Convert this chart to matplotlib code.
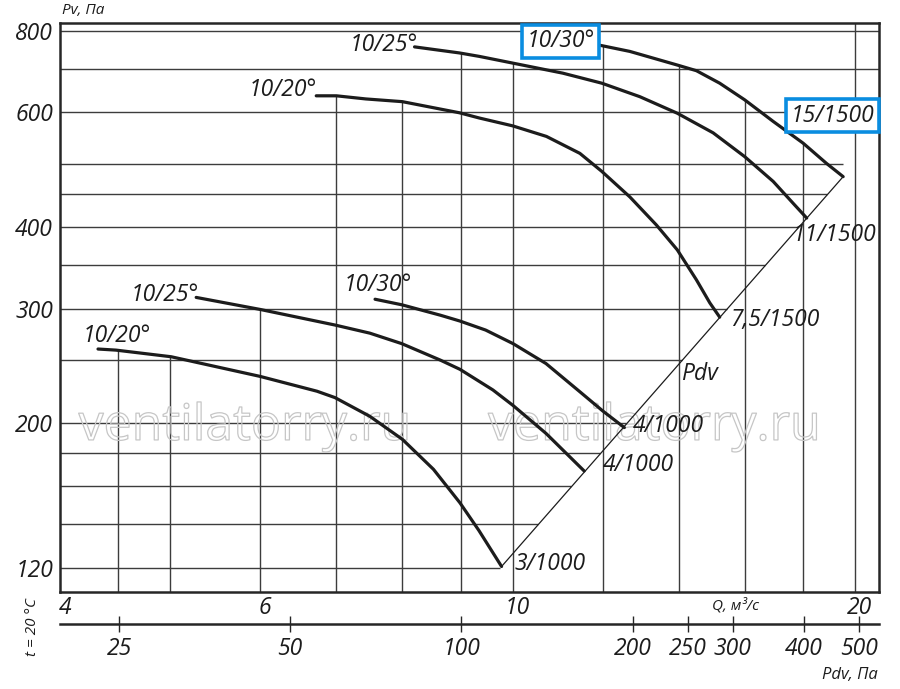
import numpy as np
import matplotlib
matplotlib.use('Agg')
import matplotlib.pyplot as plt
import matplotlib.patheffects as pe
import matplotlib.transforms as mtransforms
from matplotlib.ticker import NullLocator, NullFormatter

plt.rcParams['font.family'] = ['Open Sans', 'DejaVu Sans']
plt.rcParams['font.style'] = 'italic'

# fan curves: Q, m3/s -> Pv, Pa
q_1000_20 = [4.32, 4.48, 5.01, 6.00, 6.73, 6.98, 7.49, 8.00, 8.52, 8.99, 9.34, 9.78]
p_1000_20 = [260, 259, 253, 236, 224, 219, 205, 189, 170, 151, 137, 120.6]
q_1000_25 = [5.27, 6.00, 6.98, 7.49, 7.99, 8.64, 8.99, 9.61, 10.01, 10.70, 11.56]
p_1000_25 = [312, 299, 283, 275, 265, 250, 242, 225, 213, 193, 169]
q_1000_30 = [7.57, 7.99, 8.64, 8.99, 9.47, 10.01, 10.70, 11.48, 12.00, 12.54]
p_1000_30 = [310, 304, 293, 287, 278, 265, 247, 223, 209, 197]
q_1500_20 = [6.72, 7.00, 7.43, 8.00, 8.98, 9.35, 10.0, 10.71, 11.46, 11.98,
             12.68, 13.38, 13.96, 14.51, 14.91, 15.21]
p_1500_20 = [636, 636, 629, 623, 599, 588, 572, 551, 519, 487,
             445, 403, 369, 332, 306, 291]
q_1500_25 = [8.20, 8.98, 9.35, 10.0, 11.07, 11.98, 12.94, 13.96, 15.01, 16.0,
             16.95, 17.65, 18.14]
p_1500_25 = [756, 740, 731, 714, 689, 665, 634, 598, 558, 513,
             470, 435, 413]
q_1500_30 = [11.95, 12.68, 13.96, 14.51, 15.21, 16.0, 16.95, 18.01, 18.88, 19.53]
p_1500_30 = [760, 744, 709, 695, 665, 627, 581, 538, 501, 478]

angle_labels = ['10/20°', '10/25°', '10/30°', '10/20°', '10/25°', '10/30°']
end_labels = ['3/1000', '4/1000', '4/1000', '7,5/1500', '11/1500', '15/1500']

# dynamic pressure line through the curve ends
pdv_q = [9.78, 19.53]
pdv_p = [120.6, 478]

q_grid = [4.5, 5, 6, 7, 8, 9, 10, 12, 14, 16, 18, 20]
p_grid = [120, 140, 160, 180, 200, 250, 300, 350, 400, 450, 500, 600, 700, 800]
q_ticks = [4, 6, 10, 20]
p_ticks = [120, 200, 300, 400, 600, 800]
pdv_ticks = [25, 50, 100, 200, 250, 300, 400, 500]
PDV_COEF = 1.23   # Pdv = 1.23 * Q^2

Q_MIN, Q_MAX = 4.0, 21.0
P_MIN, P_MAX = 110.4, 824

curves = [(q_1000_20, p_1000_20), (q_1000_25, p_1000_25), (q_1000_30, p_1000_30),
          (q_1500_20, p_1500_20), (q_1500_25, p_1500_25), (q_1500_30, p_1500_30)]

ink = '#1c1c1c'
blue = '#0a8de0'
px = 0.72  # pixels -> points at 100 dpi
fs = 16.5

fig = plt.figure(figsize=(9, 6.89), dpi=100)
ax = fig.add_axes([60 / 900, 1 - 591.5 / 689, 819 / 900, 569 / 689])
ax.set_xscale('log')
ax.set_yscale('log')
ax.set_xlim(Q_MIN, Q_MAX)
ax.set_ylim(P_MIN, P_MAX)


def top_at(q):
    tops = [np.exp(np.interp(np.log(q), np.log(cq), np.log(cp)))
            for cq, cp in curves if cq[0] <= q <= cq[-1]]
    return max(tops) if tops else P_MAX


# grid only under the curves and left of the Pdv line
for q in q_grid:
    ax.vlines(q, P_MIN, top_at(q), color='#3c3c3c', lw=1.0, zorder=1)
k = pdv_p[0] / pdv_q[0] ** 2
for p in p_grid:
    end = min(np.sqrt(p / k), pdv_q[-1]) if p <= pdv_p[-1] * 1.1 else Q_MAX
    ax.hlines(p, Q_MIN, end, color='#3c3c3c', lw=1.0, zorder=1)

ax.plot(pdv_q, pdv_p, color=ink, lw=0.9, zorder=3)

start_off = [(19, 13), (-31, 2), (3, 14), (-33, 6), (-31, 2), (-40, 4)]
end_off = [(48, 2), (54, 6), (44, 2), (55, -3), (28, -17), (-11, 61)]
box = dict(boxstyle='square,pad=0.2', fc='white', ec=blue, lw=2.6)

for i, (cq, cp) in enumerate(curves):
    ax.plot(cq, cp, color=ink, lw=2.3, solid_capstyle='round',
            solid_joinstyle='round', zorder=4)
    dx, dy = start_off[i]
    ax.annotate(angle_labels[i], (cq[0], cp[0]), xytext=(dx * px, dy * px),
                textcoords='offset points', ha='center', va='center',
                fontsize=fs, color=ink, bbox=box if i == 5 else None, zorder=5)
    dx, dy = end_off[i]
    ax.annotate(end_labels[i], (cq[-1], cp[-1]), xytext=(dx * px, dy * px),
                textcoords='offset points', ha='center', va='center',
                fontsize=fs, color=ink, bbox=box if i == 5 else None, zorder=5)

ax.annotate('Pdv', (np.sqrt(250 / k), 250), xytext=(18 * px, -14 * px),
            textcoords='offset points', ha='center', va='center',
            fontsize=fs, color=ink, zorder=5)

for x in [0.272, 0.727]:
    ax.text(x, 0.38, 'ventilatorry.ru', transform=fig.transFigure,
            ha='center', va='center', fontsize=36, style='normal',
            color='none', zorder=2,
            path_effects=[pe.Stroke(linewidth=0.9, foreground='#c6c6c6')])

for s in ax.spines.values():
    s.set_linewidth(1.8)
    s.set_color('#262626')

ax.xaxis.set_minor_locator(NullLocator())
ax.yaxis.set_minor_locator(NullLocator())
ax.xaxis.set_minor_formatter(NullFormatter())
ax.yaxis.set_minor_formatter(NullFormatter())
ax.set_xticks(q_ticks, [str(v) for v in q_ticks])
ax.set_yticks(p_ticks, [str(v) for v in p_ticks])
ax.tick_params(length=0, labelsize=fs, labelcolor=ink)
ax.tick_params(axis='x', pad=3)
ax.tick_params(axis='y', pad=5)
shift = mtransforms.ScaledTranslation(5 / 100, 0, fig.dpi_scale_trans)
for lab in ax.get_xticklabels():
    lab.set_transform(lab.get_transform() + shift)

sec = ax.secondary_xaxis(-0.057, functions=(lambda q: PDV_COEF * np.asarray(q) ** 2,
                                            lambda p: np.sqrt(np.maximum(p, 1e-9) / PDV_COEF)))
sec.set_xticks(pdv_ticks, [str(v) for v in pdv_ticks])
sec.xaxis.set_minor_locator(NullLocator())
sec.tick_params(direction='inout', length=11, width=1.0, color='#262626',
                labelsize=fs, labelcolor=ink, pad=4)
sec.spines['bottom'].set_linewidth(1.8)
sec.spines['bottom'].set_color('#262626')

fig.text(83 / 900, 1 - 11 / 689, 'Pv, Па', ha='center', va='center', fontsize=11, color=ink)
fig.text(736 / 900, 1 - 606 / 689, 'Q, м³/с', ha='center', va='center', fontsize=11, color=ink)
fig.text(850 / 900, 1 - 675 / 689, 'Pdv, Па', ha='center', va='center', fontsize=12, color=ink)
fig.text(33 / 900, 1 - 627 / 689, 't = 20 °C', ha='center', va='center', fontsize=11,
         rotation=90, color=ink)

fig.savefig('out.png', dpi=100, facecolor='white')
